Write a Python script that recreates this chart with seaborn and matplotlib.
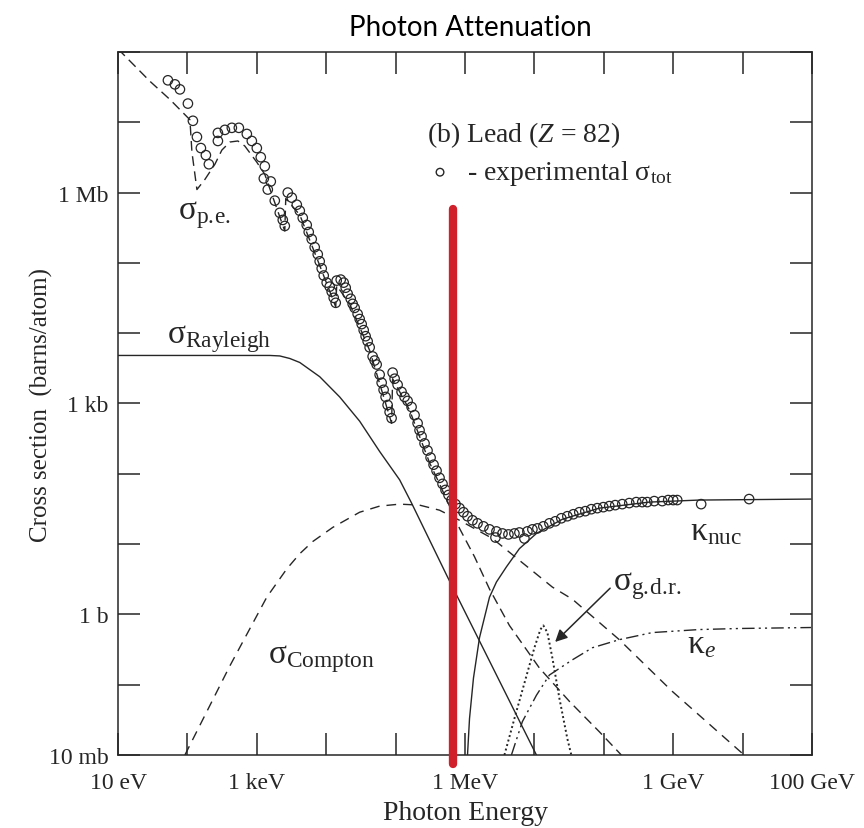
import numpy as np
import pandas as pd
import matplotlib
matplotlib.use("Agg")
import matplotlib.pyplot as plt
import seaborn as sns

# values read off the lead (Z=82) photon cross-section plot
# energies as log10(E / eV), cross sections as log10(sigma / barn)

pe_logE = [1.0, 1.460, 1.748, 2.036, 2.065, 2.137, 2.252, 2.396, 2.496, 2.612, 2.727, 2.827,
           3.000, 3.115, 3.259, 3.403, 3.417, 3.619, 3.906, 4.137, 4.151, 4.338, 4.626, 4.942,
           4.957, 5.201, 5.489, 5.633, 5.777, 5.921, 6.137, 6.353, 6.640, 7.072, 7.504, 7.935, 8.252]
pe_logS = [8.043, 7.583, 7.324, 7.036, 6.576, 6.043, 6.187, 6.403, 6.604, 6.719, 6.734, 6.662,
           6.432, 6.259, 5.856, 5.453, 5.914, 5.683, 4.964, 4.374, 4.676, 4.417, 3.755, 2.719,
           3.352, 2.906, 2.158, 1.856, 1.540, 1.223, 0.820, 0.360, -0.158, -0.763, -1.237, -1.669, -2.0]

rayleigh_logE = [1.0, 3.187, 3.331, 3.475, 3.619, 3.906, 4.194, 4.482, 4.770, 5.058, 5.230, 5.748, 7.029]
rayleigh_logS = [3.683, 3.683, 3.676, 3.640, 3.583, 3.381, 3.093, 2.748, 2.317, 1.914, 1.583, 0.532, -2.0]

compton_logE = [1.964, 2.611, 3.144, 3.432, 3.619, 3.806, 4.094, 4.482, 4.770, 5.058, 5.345,
                5.633, 5.921, 6.396, 7.259, 7.547, 8.223, 8.985, 10.022]
compton_logS = [-2.0, -0.734, 0.245, 0.647, 0.863, 1.036, 1.237, 1.453, 1.540, 1.568, 1.554,
                1.482, 1.338, 1.079, 0.388, 0.216, -0.360, -1.094, -2.0]

knuc_logE = [6.036, 6.065, 6.122, 6.209, 6.353, 6.453, 6.597, 6.784, 7.029, 7.403, 7.935,
             8.655, 9.374, 10.986]
knuc_logS = [-2.0, -1.482, -0.906, -0.331, 0.245, 0.460, 0.676, 0.935, 1.151, 1.353, 1.511,
             1.597, 1.626, 1.640]

ke_logE = [6.669, 6.827, 7.029, 7.216, 7.547, 7.835, 8.223, 8.698, 9.374, 9.950, 10.986]
ke_logS = [-2.0, -1.525, -1.151, -0.863, -0.647, -0.475, -0.360, -0.259, -0.216, -0.201, -0.187]

gdr_logE = [6.568, 6.712, 6.856, 7.000, 7.086, 7.129, 7.187, 7.259, 7.360, 7.475, 7.532]
gdr_logS = [-2.0, -1.482, -0.978, -0.475, -0.216, -0.158, -0.259, -0.619, -1.194, -1.770, -2.0]

exp_logE = [1.719, 1.820, 1.892, 2.007, 2.079, 2.137, 2.194, 2.266, 2.309, 2.439, 2.439, 2.540,
            2.640, 2.741, 2.856, 2.928, 3.000, 3.057, 3.115, 3.101, 3.158, 3.201, 3.259, 3.331,
            3.374, 3.403,
            3.446, 3.504, 3.576, 3.619, 3.662, 3.719, 3.748, 3.791, 3.834, 3.878, 3.906, 3.935,
            3.964, 4.007, 4.050, 4.079, 4.108, 4.137,
            4.151, 4.209, 4.252, 4.281, 4.309, 4.353, 4.381, 4.410, 4.453, 4.482, 4.511, 4.540,
            4.568, 4.597, 4.626, 4.669, 4.698, 4.727, 4.770, 4.799, 4.827, 4.856, 4.885, 4.914,
            4.942,
            4.957, 4.986, 5.029, 5.086, 5.129, 5.173, 5.230, 5.273, 5.317, 5.345, 5.374, 5.417,
            5.460, 5.504, 5.547, 5.590, 5.633, 5.676, 5.719, 5.762, 5.806, 5.863, 5.921, 5.978,
            6.036, 6.108, 6.180, 6.266, 6.353, 6.439, 6.453, 6.540, 6.626, 6.712, 6.784, 6.856,
            6.899, 6.971, 7.043, 7.129, 7.216, 7.302, 7.388, 7.475, 7.561, 7.647, 7.734, 7.820,
            7.906, 7.993, 8.079, 8.165, 8.266, 8.367, 8.468, 8.554, 8.626, 8.727, 8.842, 8.928,
            9.000, 9.058, 9.403, 10.094]
exp_logS = [7.597, 7.539, 7.468, 7.266, 7.021, 6.791, 6.633, 6.532, 6.403, 6.734, 6.849, 6.892,
            6.921, 6.921, 6.834, 6.734, 6.633, 6.503, 6.374, 6.201, 6.043, 6.158, 5.885, 5.712,
            5.611, 5.525,
            6.000, 5.928, 5.827, 5.741, 5.640, 5.539, 5.439, 5.338, 5.223, 5.122, 5.022, 4.921,
            4.820, 4.719, 4.662, 4.590, 4.503, 4.432,
            4.748, 4.762, 4.719, 4.647, 4.561, 4.489, 4.417, 4.360, 4.273, 4.201, 4.129, 4.043,
            3.957, 3.885, 3.798, 3.669, 3.611, 3.554, 3.410, 3.295, 3.194, 3.093, 2.978, 2.878,
            2.791,
            3.439, 3.352, 3.266, 3.165, 3.093, 3.036, 2.950, 2.834, 2.719, 2.619, 2.532, 2.432,
            2.331, 2.230, 2.129, 2.043, 1.942, 1.856, 1.770, 1.698, 1.626, 1.568, 1.511, 1.453,
            1.396, 1.338, 1.295, 1.252, 1.209, 1.093, 1.180, 1.151, 1.137, 1.151, 1.165, 1.079,
            1.180, 1.209, 1.223, 1.252, 1.295, 1.324, 1.367, 1.396, 1.424, 1.453, 1.468, 1.496,
            1.511, 1.525, 1.540, 1.554, 1.568, 1.583, 1.597, 1.597, 1.597, 1.611, 1.611, 1.626,
            1.626, 1.626, 1.568, 1.640]

# Cs-137 line marked in red (0.662 MeV)
marker_logE = [5.821, 5.821]
marker_logS = [5.77, -2.129]

x_ticks = [10.0 ** k for k in range(1, 12)]
x_tick_labels = ["10 eV", "", "1 keV", "", "", "1 MeV", "", "", "1 GeV", "", "100 GeV"]
y_ticks = [10.0 ** k for k in range(-2, 9)]
y_tick_labels = ["10 mb", "", "1 b", "", "", "1 kb", "", "", "1 Mb", "", ""]


def curve(logE, logS):
    return pd.DataFrame({"E": np.power(10.0, logE), "sigma": np.power(10.0, logS)})


sns.set_theme(style="ticks")
plt.rcParams["font.family"] = ["Liberation Serif", "DejaVu Serif"]
plt.rcParams["mathtext.fontset"] = "custom"
plt.rcParams["mathtext.rm"] = "Liberation Serif"
plt.rcParams["mathtext.it"] = "Liberation Serif:italic"
plt.rcParams["mathtext.bf"] = "Liberation Serif:bold"

ink = "#262626"
fig = plt.figure(figsize=(8.64, 8.29), dpi=100)
ax = fig.add_axes([0.1366, 0.0881, 0.8032, 0.848])
ax.set_xscale("log")
ax.set_yscale("log")

line_kw = dict(x="E", y="sigma", estimator=None, sort=False, color=ink, ax=ax, legend=False)
sns.lineplot(data=curve(pe_logE, pe_logS), linewidth=1.0, linestyle=(0, (7, 4)), **line_kw)
sns.lineplot(data=curve(rayleigh_logE, rayleigh_logS), linewidth=1.0, **line_kw)
sns.lineplot(data=curve(compton_logE, compton_logS), linewidth=1.0, linestyle=(0, (7, 5)), **line_kw)
sns.lineplot(data=curve(knuc_logE, knuc_logS), linewidth=1.0, **line_kw)
sns.lineplot(data=curve(ke_logE, ke_logS), linewidth=1.0,
             linestyle=(0, (9, 3, 1.5, 3, 1.5, 3)), **line_kw)
sns.lineplot(data=curve(gdr_logE, gdr_logS), linewidth=1.4, linestyle=(0, (1, 1.4)), **line_kw)

exp = curve(exp_logE, exp_logS)
ax.scatter(exp["E"], exp["sigma"], s=46, facecolors="none", edgecolors=ink, linewidths=0.9, zorder=3)

# red marker line
ax.plot(np.power(10.0, marker_logE), np.power(10.0, marker_logS), color="#d0202c",
        linewidth=6, solid_capstyle="round", clip_on=False, zorder=5)

ax.set_xlim(1e1, 1e11)
ax.set_ylim(1e-2, 1e8)
ax.set_xticks(x_ticks)
ax.set_xticklabels(x_tick_labels)
ax.set_yticks(y_ticks)
ax.set_yticklabels(y_tick_labels)
ax.minorticks_off()
ax.tick_params(which="major", direction="in", length=16, width=1.1, top=True, right=True,
               labelsize=17, pad=7, color=ink, labelcolor=ink)
ax.tick_params(axis="x", pad=12)
for sp in ax.spines.values():
    sp.set_visible(True)
    sp.set_color(ink)
    sp.set_linewidth(1.1)
ax.set_xlabel("")
ax.set_ylabel("")

# curve labels
tr = ax.transAxes
ax.text(0.0865, 0.764, r"$\mathrm{σ}_{\mathrm{p.\!e.}}$", transform=tr, fontsize=24, color=ink)
ax.text(0.0706, 0.5875, r"$\mathrm{σ}_{\mathrm{Rayleigh}}$", transform=tr, fontsize=24, color=ink)
ax.text(0.216, 0.1323, r"$\mathrm{σ}_{\mathrm{Compton}}$", transform=tr, fontsize=24, color=ink)
ax.text(0.824, 0.307, r"$\mathrm{κ}_{\mathrm{nuc}}$", transform=tr, fontsize=24, color=ink)
ax.text(0.820, 0.1465, r"$\mathrm{κ}_{e}$", transform=tr, fontsize=24, color=ink)
ax.text(0.713, 0.236, r"$\mathrm{σ}_{\mathrm{g.\!d.\!r.}}$", transform=tr, fontsize=24, color=ink)
ax.annotate("", xy=(0.627, 0.158), xytext=(0.712, 0.240), xycoords=tr, textcoords=tr,
            arrowprops=dict(arrowstyle="-|>", color=ink, lw=1.1, mutation_scale=18))

ax.text(0.445, 0.873, r"(b) Lead ($Z$ = 82)", transform=tr, fontsize=20, color=ink)
ax.scatter([0.464], [0.829], s=30, facecolors="none", edgecolors=ink, linewidths=1.0,
           transform=tr, clip_on=False)
ax.text(0.503, 0.819, r"- experimental $\mathrm{σ}_{\mathrm{tot}}$", transform=tr,
        fontsize=20, color=ink)

fig.text(0.048, 0.511, "Cross section  (barns/atom)", rotation=90, ha="center", va="center",
         fontsize=18, color=ink)
fig.text(0.539, 0.019, "Photon Energy", ha="center", va="center", fontsize=20, color=ink)
fig.text(0.544, 0.966, "Photon Attenuation", ha="center", va="center", fontsize=20,
         family=["Lato", "DejaVu Sans"], color="black")

fig.savefig("out.png", dpi=100)
